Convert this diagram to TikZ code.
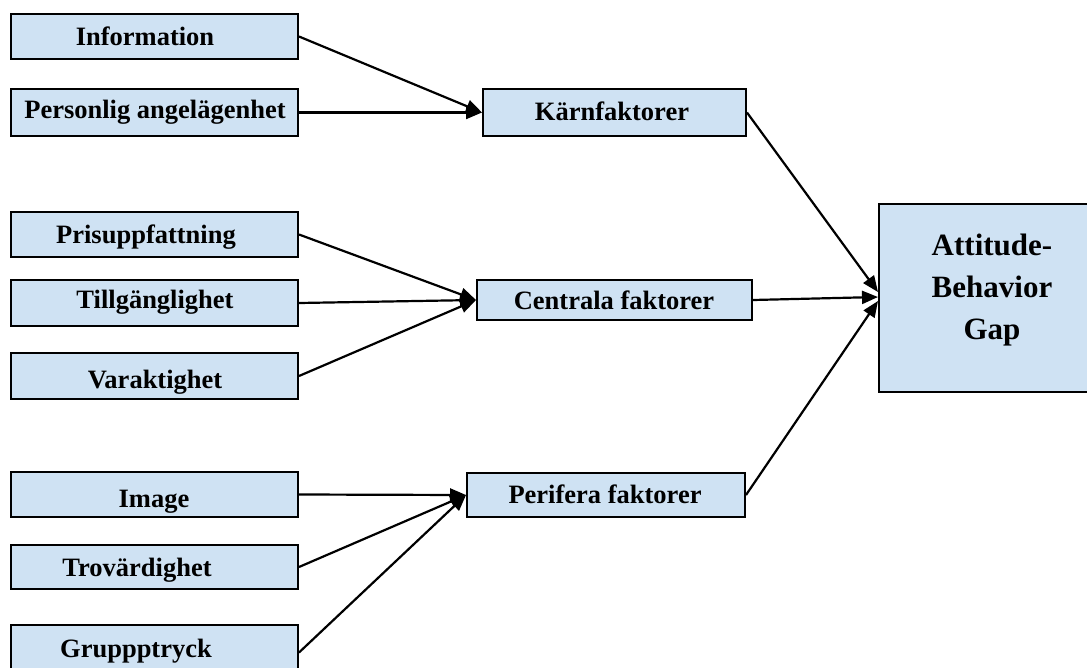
\documentclass[tikz,border=0pt]{standalone}
\usepackage{fontspec}
\setmainfont{Liberation Serif}
\usetikzlibrary{arrows.meta}
\definecolor{boxblue}{HTML}{CFE2F3}
\tikzset{
  box/.style={draw=black, fill=boxblue, line width=2pt, rectangle, inner sep=0pt},
  lbl/.style={font=\fontsize{26.5}{30}\selectfont\bfseries, inner sep=0pt, anchor=base},
  big/.style={font=\fontsize{31}{42}\selectfont\bfseries, inner sep=0pt, align=center},
  conn/.style={line width=2.2pt, -{Triangle[length=16pt,width=13pt]}},
}
\newcommand{\bx}[5]{\node[box, minimum width=#4pt-#2pt, minimum height=#5pt-#3pt] (#1) at ({(#2+#4)/2},{(#3+#5)/2}) {};}
\begin{document}
\begin{tikzpicture}[x=1pt,y=-1pt]
\clip (0,0) rectangle (1087,667);
\fill[white] (0,0) rectangle (1087,667);
% left boxes
\bx{info}{11}{14}{298}{59}
\bx{pers}{11}{89}{298}{136}
\bx{pris}{11}{212}{298}{257}
\bx{till}{11}{280}{298}{326}
\bx{vara}{11}{353}{298}{399}
\bx{imag}{11}{472}{298}{517}
\bx{trov}{11}{545}{298}{589}
\bx{grup}{11}{625}{298}{680}
% middle boxes
\bx{karn}{483}{89}{746}{136}
\bx{cent}{477}{280}{752}{320}
\bx{peri}{467}{473}{745}{517}
% gap box
\bx{gap}{879}{204}{1104}{392}
% labels
\node[lbl] (tinfo) at (145,45) {Information};
\node[lbl] (tpers) at (155,118) {Personlig angelägenhet};
\node[lbl] (tpris) at (146,243) {Prisuppfattning};
\node[lbl] (ttill) at (155,308) {Tillgänglighet};
\node[lbl] (tvara) at (155,388) {Varaktighet};
\node[lbl] (timag) at (154,507) {Image};
\node[lbl] (ttrov) at (137,576) {Trovärdighet};
\node[lbl] (tgrup) at (136,657) {Gruppptryck};
\node[lbl] (tkarn) at (612,120) {Kärnfaktorer};
\node[lbl] (tcent) at (614,309) {Centrala faktorer};
\node[lbl] (tperi) at (605,503) {Perifera faktorer};
\node[big] (tgap) at (992,290) {Attitude-\\Behavior\\Gap};
% connector targets
\coordinate (g1) at ([yshift=6pt]gap.west);
\coordinate (g2) at ([yshift=1pt]gap.west);
\coordinate (g3) at ([yshift=-3pt]gap.west);
% connectors
\draw[conn] (info.east) -- (karn.west);
\draw[conn] (pers.east) -- (karn.west);
\draw[conn] (pris.east) -- (cent.west);
\draw[conn] (till.east) -- (cent.west);
\draw[conn] (vara.east) -- (cent.west);
\draw[conn] (imag.east) -- (peri.west);
\draw[conn] (trov.east) -- (peri.west);
\draw[conn] (grup.east) -- (peri.west);
\draw[conn] (karn.east) -- (g1);
\draw[conn] (cent.east) -- (g2);
\draw[conn] (peri.east) -- (g3);
\end{tikzpicture}
\end{document}
